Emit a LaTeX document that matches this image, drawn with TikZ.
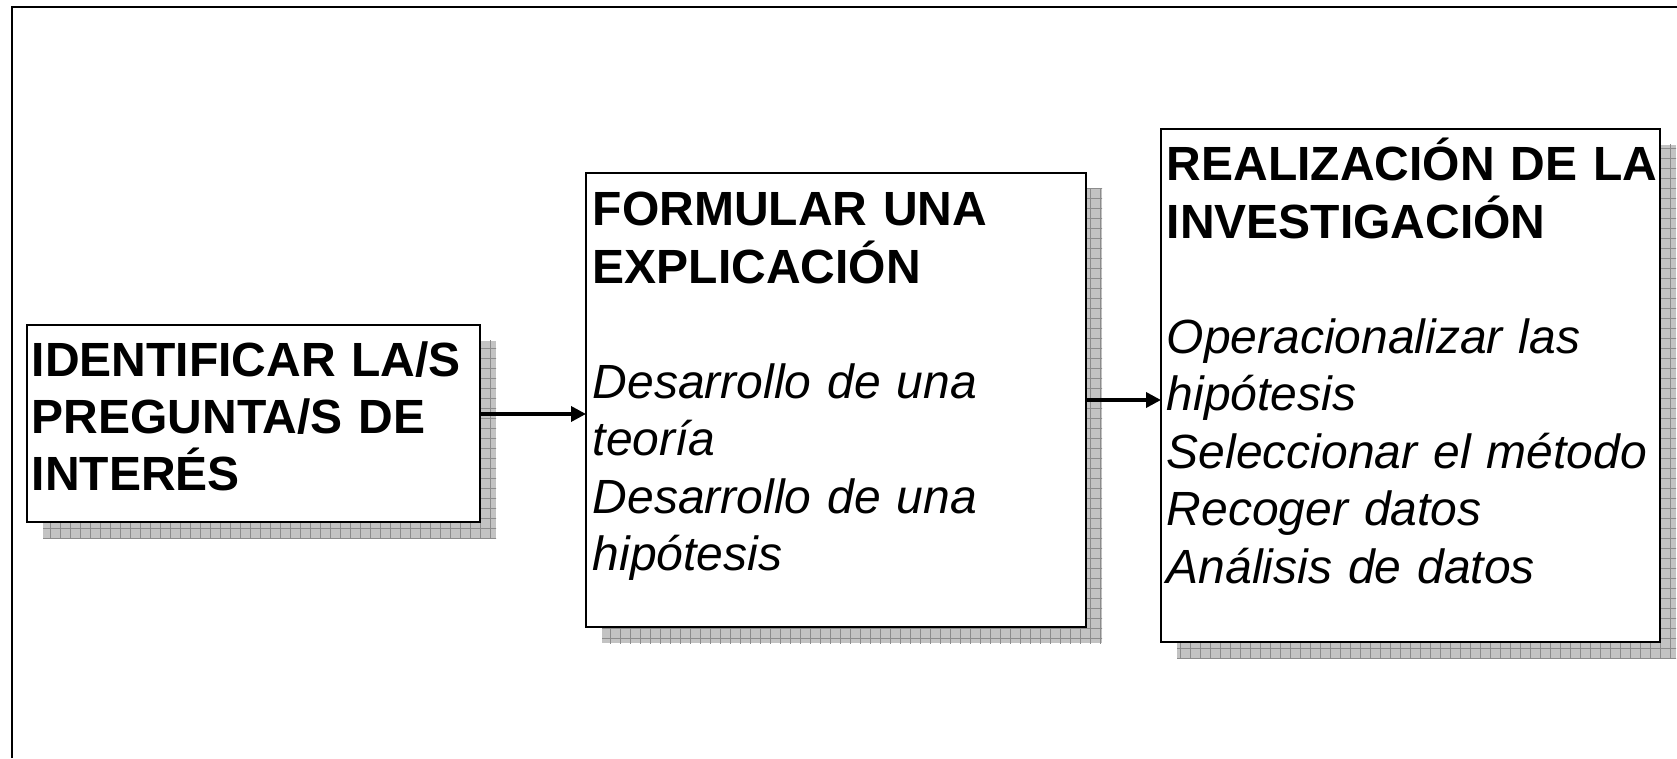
\documentclass[tikz,border=0pt]{standalone}
\usepackage{fontspec}
\setmainfont{Liberation Sans}
\usetikzlibrary{arrows.meta,patterns.meta,backgrounds}
\definecolor{shfill}{RGB}{195,195,195}
\definecolor{shgrid}{RGB}{140,140,140}
\begin{document}
\begin{tikzpicture}[x=1pt,y=1pt,
  box/.style={draw=black, line width=2pt, fill=white, inner sep=0pt, outer sep=0pt},
  txt/.style={anchor=base west, inner sep=0pt, align=left, text width=520pt,
    font=\fontsize{48}{57.5}\selectfont},
  shadowfill/.style={fill=shfill, postaction={pattern={Hatch[angle=0,distance=10pt,line width=0.9pt]}, pattern color=shgrid}},
  link/.style={line width=3.5pt, -{Triangle[length=15pt,width=15pt]}},
  frame/.style={line width=2.5pt, draw=black}
]
\useasboundingbox (0,0) rectangle (1677,758);
\draw[frame] (12,0) -- (12,751) -- (1677,751);

\node[box, minimum width=453pt, minimum height=197pt] (b1) at (253.5,334.5) {};
\node[box, minimum width=500pt, minimum height=454pt] (b2) at (836,358) {};
\node[box, minimum width=499pt, minimum height=513pt] (b3) at (1410.5,372.5) {};

\begin{scope}[on background layer]
  \foreach \b in {b1,b2,b3}{
    \path[shadowfill] ([shift={(16,-16)}]\b.south west) rectangle ([shift={(16,-16)}]\b.north east);
  }
\end{scope}

\node[txt, font=\fontsize{48}{57}\selectfont\bfseries] (t1) at (31.5,381.5)
  {IDENTIFICAR LA/S\\PREGUNTA/S DE\\INTERÉS};
\node[txt] (t2) at (592.5,532.3)
  {\textbf{FORMULAR UNA}\\\textbf{EXPLICACIÓN}\\[57.5pt]\textit{Desarrollo de una}\\\textit{teoría}\\\textit{Desarrollo de una}\\\textit{hipótesis}};
\node[txt] (t3) at (1166.5,577.3)
  {\textbf{REALIZACIÓN DE LA}\\\textbf{INVESTIGACIÓN}\\[57.5pt]\textit{Operacionalizar las}\\\textit{hipótesis}\\\textit{Seleccionar el método}\\\textit{Recoger datos}\\\textit{Análisis de datos}};

\draw[link] ([yshift=9.5pt]b1.east) -- ([yshift=9.5pt]b1.east -| b2.west);
\draw[link] (b2.east) -- (b2.east -| b3.west);
\end{tikzpicture}
\end{document}
